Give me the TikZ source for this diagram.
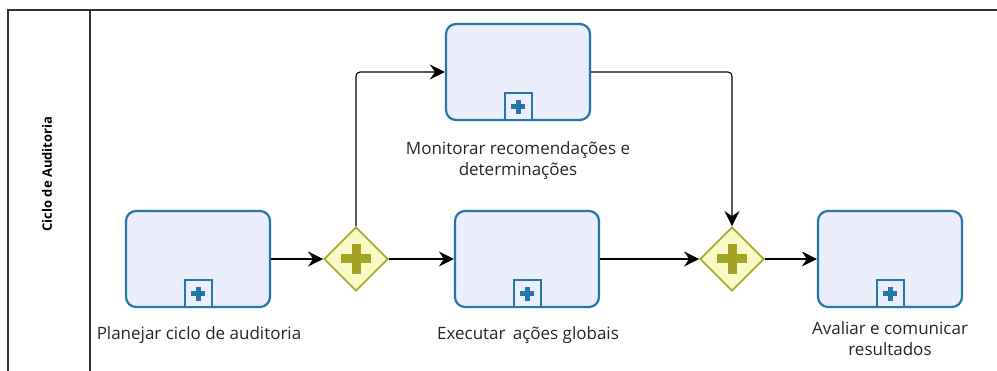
\documentclass[tikz,border=0pt]{standalone}
\usepackage{fontspec}
\setmainfont{Open Sans}
\usetikzlibrary{arrows.meta,shapes.geometric,calc}
\definecolor{taskfill}{HTML}{EAEEFD}
\definecolor{taskline}{HTML}{2477A6}
\definecolor{gwfill}{HTML}{FAFAC6}
\definecolor{gwline}{HTML}{A9A930}
\definecolor{gwplus}{HTML}{A3A326}
\definecolor{poolline}{HTML}{333333}
\tikzset{
  task/.style={draw=taskline,fill=taskfill,line width=2.2pt,rounded corners=10pt,minimum width=144pt,minimum height=96pt,inner sep=0pt},
  gw/.style={diamond,draw=gwline,fill=gwfill,line width=1.8pt,minimum width=64pt,minimum height=64pt,inner sep=0pt,aspect=1},
  flow/.style={draw=black,line width=1.1pt,-{Stealth[length=15pt,width=15pt,inset=5pt]},rounded corners=4pt},
  lbl/.style={font=\fontsize{17pt}{21pt}\selectfont,align=center,text=black!85,inner sep=0pt},
  marker/.style={draw=taskline,fill=taskfill,line width=2pt,minimum width=27pt,minimum height=27pt,inner sep=0pt}
}
\newcommand{\gwplus}[1]{%
  \fill[gwplus] ($(#1)+(-15,-4.5)$) rectangle ($(#1)+(15,4.5)$);
  \fill[gwplus] ($(#1)+(-4.5,-15)$) rectangle ($(#1)+(4.5,15)$);}
\newcommand{\submarker}[2]{%
  \node[marker,anchor=south] (#2) at (#1.south) {};
  \fill[taskline] ($(#2)+(-7,-2.5)$) rectangle ($(#2)+(7,2.5)$);
  \fill[taskline] ($(#2)+(-2.5,-7)$) rectangle ($(#2)+(2.5,7)$);}
\begin{document}
\begin{tikzpicture}[x=1pt,y=-1pt]
\useasboundingbox (0,0) rectangle (997,371);
\fill[white] (0,0) rectangle (997,371);
% pool
\draw[poolline,line width=1.6pt] (1000,10) -- (8,10) -- (8,375);
\draw[poolline,line width=1.2pt] (90,10) -- (90,375);
\node[rotate=90,font=\bfseries\fontsize{13pt}{15pt}\selectfont,inner sep=0pt] (lane) at (47,174) {Ciclo de Auditoria};
% tasks
\node[task] (t1) at (198,259) {};
\node[task] (t2) at (518,72) {};
\node[task] (t3) at (527,259) {};
\node[task] (t4) at (890,259) {};
\submarker{t1}{m1}
\submarker{t2}{m2}
\submarker{t3}{m3}
\submarker{t4}{m4}
% gateways
\node[gw] (g1) at (356,259) {};
\node[gw] (g2) at (732,259) {};
\gwplus{g1}
\gwplus{g2}
% labels
\node[lbl] (l1) at (199,335) {Planejar ciclo de auditoria};
\node[lbl] (l2) at (518,161) {Monitorar recomendações e\\determinações};
\node[lbl] (l3) at (528,335) {Executar\, ações globais};
\node[lbl] (l4) at (890,339) {Avaliar e comunicar\\resultados};
% flows
\draw[flow] (t1.east) -- (g1.west);
\draw[flow] (g1.north) |- (t2.west);
\draw[flow] (g1.east) -- (t3.west);
\draw[flow] (t2.east) -| (g2.north);
\draw[flow] (t3.east) -- (g2.west);
\draw[flow] (g2.east) -- (t4.west);
\end{tikzpicture}
\end{document}
